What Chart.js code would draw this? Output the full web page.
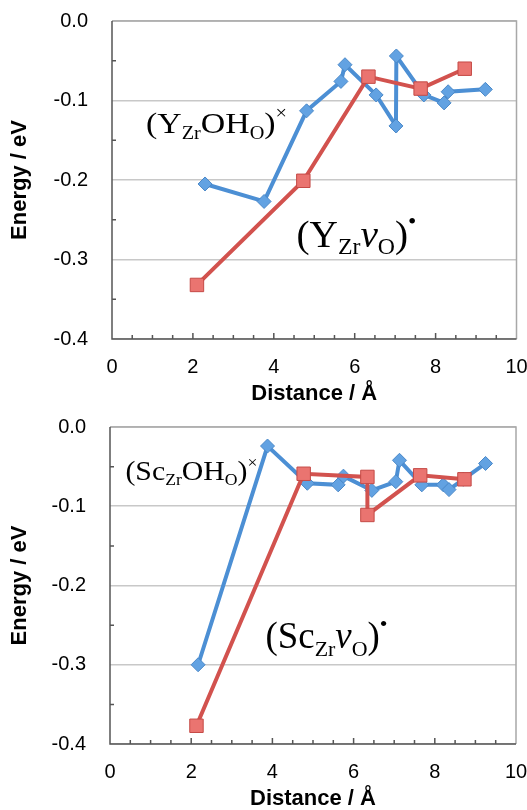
<!DOCTYPE html>
<html lang="en">
<head>
<meta charset="UTF-8">
<title>Energy vs distance</title>
<script src="https://cdn.jsdelivr.net/npm/chart.js"></script>
<style>
  body { margin: 0; background: #fff; }
  .panel { position: absolute; left: 0; width: 527px; height: 405px; }
</style>
</head>
<body>
<div class="panel" style="top:0"><canvas id="chartY" width="527" height="405"></canvas></div>
<div class="panel" style="top:405px"><canvas id="chartSc" width="527" height="405"></canvas></div>
<script>
// top panel, Y doped: (Y_Zr OH_O)x  -> blue diamonds
const yOhDist   = [2.30, 3.76, 4.81, 5.66, 5.76, 6.53, 7.02, 7.03, 7.71, 8.21, 8.31, 9.23];
const yOhEnergy = [-0.205, -0.227, -0.113, -0.076, -0.055, -0.093, -0.132, -0.044, -0.093, -0.103, -0.089, -0.086];
// (Y_Zr v_O)•  -> red squares
const yVacDist   = [2.10, 4.73, 6.34, 7.63, 8.72];
const yVacEnergy = [-0.332, -0.201, -0.070, -0.085, -0.060];

// bottom panel, Sc doped
const scOhDist   = [2.17, 3.88, 4.86, 5.62, 5.75, 6.45, 7.04, 7.13, 7.68, 8.21, 8.35, 8.70, 9.25];
const scOhEnergy = [-0.300, -0.024, -0.071, -0.073, -0.062, -0.080, -0.069, -0.042, -0.073, -0.073, -0.079, -0.066, -0.046];
const scVacDist   = [2.13, 4.77, 6.34, 6.34, 7.64, 8.73];
const scVacEnergy = [-0.377, -0.059, -0.063, -0.111, -0.061, -0.066];

const xTicks = [0, 2, 4, 6, 8, 10];
const yTicks = [0, -0.1, -0.2, -0.3, -0.4];

const BLUE = '#4c8fd4', BLUE_PT = '#62a2e2';
const RED = '#d2524e', RED_PT = '#ea7470';

function pts(xs, ys) { return xs.map((x, i) => ({ x: x, y: ys[i] })); }

// frame + inward minor ticks, drawn under the data
const framePlugin = {
  id: 'frame',
  beforeDatasetsDraw(chart) {
    const { ctx, chartArea: a, scales: { x, y } } = chart;
    ctx.save();
    ctx.lineWidth = 1.5;
    ctx.strokeStyle = '#a8a8a8';
    ctx.beginPath();
    ctx.moveTo(a.left, a.top); ctx.lineTo(a.right, a.top); ctx.lineTo(a.right, a.bottom);
    ctx.stroke();
    ctx.strokeStyle = '#555';
    ctx.beginPath();
    ctx.moveTo(a.left, a.top); ctx.lineTo(a.left, a.bottom); ctx.lineTo(a.right, a.bottom);
    // x minor ticks every 0.5
    for (let v = 0.5; v < 10; v += 0.5) {
      const px = x.getPixelForValue(v);
      const len = (v % 2 === 0) ? 6 : 4;
      ctx.moveTo(px, a.bottom); ctx.lineTo(px, a.bottom - len);
    }
    // y minor ticks
    for (let v = -0.05; v > -0.4; v -= 0.1) {
      const py = y.getPixelForValue(v);
      ctx.moveTo(a.left, py); ctx.lineTo(a.left + 4, py);
    }
    ctx.stroke();
    ctx.restore();
  }
};

// serif labels with sub/superscripts, stretched to a given width
function drawRich(ctx, parts, x, y, size, targetW) {
  const fam = '"Liberation Serif", "Times New Roman", serif';
  const fontFor = p => (p.i ? 'italic ' : '') + (p.k ? Math.round(size * 0.6) : size) + 'px ' + fam;
  let w = 0;
  parts.forEach(p => { ctx.font = fontFor(p); w += ctx.measureText(p.t).width; });
  ctx.save();
  ctx.translate(x, y);
  ctx.scale(targetW / w, 1);
  ctx.fillStyle = '#000';
  ctx.textBaseline = 'alphabetic';
  let cx = 0;
  parts.forEach(p => {
    ctx.font = fontFor(p);
    const dy = p.k === 'sub' ? size * 0.2 : p.k === 'sup' ? -size * 0.46 : 0;
    ctx.fillText(p.t, cx, dy);
    cx += ctx.measureText(p.t).width;
  });
  ctx.restore();
}

const labelPlugin = {
  id: 'labels',
  afterDatasetsDraw(chart) {
    const { ctx, scales: { x, y } } = chart;
    (chart.options.plugins.labels.items || []).forEach(it => {
      drawRich(ctx, it.parts, x.getPixelForValue(it.x), y.getPixelForValue(it.y), it.size, it.w);
    });
  }
};

function makeChart(id, ohData, vacData, yAxisWidth, padTop, padRight, items) {
  const tickFont = { family: '"Liberation Sans", Arial, sans-serif', size: 20 };
  const titleFont = { family: '"Liberation Sans", Arial, sans-serif', size: 22, weight: 'bold', lineHeight: 1 };
  return new Chart(document.getElementById(id), {
    type: 'scatter',
    data: {
      datasets: [
        {
          data: vacData, showLine: true, order: 0,
          borderColor: RED, borderWidth: 4, tension: 0,
          pointStyle: 'rect', pointRadius: 9.5, pointHoverRadius: 9.5,
          pointBackgroundColor: RED_PT, pointBorderColor: '#c54a46', pointBorderWidth: 1
        },
        {
          data: ohData, showLine: true, order: 1,
          borderColor: BLUE, borderWidth: 4, tension: 0,
          pointStyle: 'rectRot', pointRadius: 7, pointHoverRadius: 7,
          pointBackgroundColor: BLUE_PT, pointBorderColor: '#4a88c8', pointBorderWidth: 1
        }
      ]
    },
    options: {
      responsive: false,
      animation: false,
      layout: { padding: { top: padTop, right: padRight, left: 0, bottom: 0 } },
      plugins: { legend: { display: false }, tooltip: { enabled: false }, labels: { items: items } },
      scales: {
        x: {
          type: 'linear', min: 0, max: 10,
          afterBuildTicks: s => { s.ticks = xTicks.map(v => ({ value: v })); },
          afterFit: s => { s.height = 66; s.paddingLeft = 0; s.paddingRight = 0; },
          grid: { display: false, drawTicks: false },
          border: { display: false },
          ticks: { padding: 16, font: tickFont, color: '#000', maxRotation: 0, autoSkip: false, callback: v => String(v) },
          title: { display: true, text: 'Distance / Å', font: titleFont, color: '#000', padding: 0 }
        },
        y: {
          min: -0.4, max: 0,
          afterBuildTicks: s => { s.ticks = yTicks.map(v => ({ value: v })); },
          afterFit: s => { s.width = yAxisWidth; s.paddingTop = 0; s.paddingBottom = 0; },
          grid: { color: '#c8c8c8', lineWidth: 1.5, drawTicks: false },
          border: { display: false },
          ticks: { padding: 24, font: tickFont, color: '#000', autoSkip: false, callback: v => v.toFixed(1) },
          title: { display: true, text: 'Energy / eV', font: titleFont, color: '#000', padding: { top: 9, bottom: 0 } }
        }
      }
    },
    plugins: [framePlugin, labelPlugin]
  });
}

makeChart('chartY', pts(yOhDist, yOhEnergy), pts(yVacDist, yVacEnergy), 112, 21, 9, [
  { x: 0.84, y: -0.141, size: 30, w: 141,
    parts: [{ t: '(Y' }, { t: 'Zr', k: 'sub' }, { t: 'OH' }, { t: 'O', k: 'sub' }, { t: ')' }, { t: '×', k: 'sup' }] },
  { x: 4.56, y: -0.284, size: 38, w: 120,
    parts: [{ t: '(Y' }, { t: 'Zr', k: 'sub' }, { t: 'v', i: true }, { t: 'O', k: 'sub' }, { t: ')' }, { t: '•', k: 'sup' }] }
]);

makeChart('chartSc', pts(scOhDist, scOhEnergy), pts(scVacDist, scVacEnergy), 110, 22, 11, [
  { x: 0.38, y: -0.067, size: 27, w: 132,
    parts: [{ t: '(Sc' }, { t: 'Zr', k: 'sub' }, { t: 'OH' }, { t: 'O', k: 'sub' }, { t: ')' }, { t: '×', k: 'sup' }] },
  { x: 3.83, y: -0.279, size: 37, w: 122,
    parts: [{ t: '(Sc' }, { t: 'Zr', k: 'sub' }, { t: 'v', i: true }, { t: 'O', k: 'sub' }, { t: ')' }, { t: '•', k: 'sup' }] }
]);
</script>
</body>
</html>
